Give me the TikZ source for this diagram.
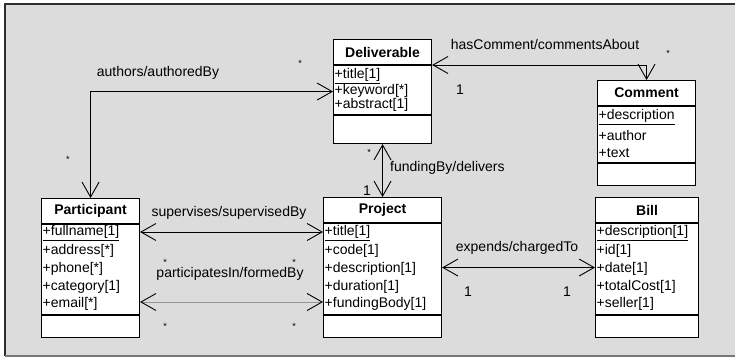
\documentclass[tikz,border=0pt]{standalone}
\usepackage{fontspec}
\setmainfont{Liberation Sans}
\usetikzlibrary{arrows.meta}

\definecolor{bggray}{RGB}{220,220,220}
\definecolor{framedark}{RGB}{45,45,45}
\definecolor{framelight}{RGB}{120,120,120}
\definecolor{linegray}{RGB}{150,150,150}

\begin{document}
\begin{tikzpicture}[x=1pt,y=-1pt,font=\fontsize{14}{17}\selectfont]
\tikzstyle{cls} = [draw, line width=1.1pt, fill=white, rectangle, inner sep=0, anchor=north west]
\tikzstyle{attr} = [anchor=west, inner sep=0]
\tikzstyle{lbl} = [inner sep=0]
\tikzstyle{mult} = [inner sep=0, font=\fontsize{9}{11}\selectfont]
\tikzstyle{assoc} = [line width=0.9pt, {Straight Barb[length=15pt,width=17pt]}-{Straight Barb[length=15pt,width=17pt]}]

\useasboundingbox (0,0) rectangle (735,358);

% Sfondo
\fill[bggray] (5,4) rectangle (735,356);
\draw[line width=1.6pt, framedark] (735,4) -- (5,4) -- (5,356);
\draw[line width=1.6pt, framelight] (5,356) -- (735,356);

% Classi: nome / x / y / larghezza / altezza / divisore / titolo
\foreach \name/\x/\y/\w/\h/\a/\title in {
    deliv/333/39/98/104/76/Deliverable,
    comm/597/80/98/105/83/Comment,
    part/41/198/98/139/117/Participant,
    proj/323/197/118/140/118/Project,
    bill/595/197/103/140/118/Bill} {

  \node[cls, minimum width=\w, minimum height=\h] (\name) at (\x,\y) {};
  \draw[line width=1.1pt] (\name.north west) ++(0,26) -- ++(\w,0);
  \draw[line width=1.1pt] (\name.north west) ++(0,\a) -- ++(\w,0);
  \node[font=\bfseries\fontsize{14}{17}\selectfont] (\name-t) at ([yshift=-13pt]\name.north) {\title};
}

% Attributi
\foreach \i/\txt in {0/\underline{+title[1]}, 1/+keyword[*], 2/+abstract[1]} {
  \pgfmathsetmacro{\yy}{76+14.5*\i}
  \node[attr] (deliv-a\i) at (334.5,\yy) {\txt};
}
\foreach \i/\txt in {0/\underline{+description}, 1/+author, 2/+text} {
  \pgfmathsetmacro{\yy}{117+18*\i}
  \node[attr] (comm-a\i) at (598.5,\yy) {\txt};
}
\foreach \i/\txt in {0/\underline{+fullname[1]}, 1/+address[*], 2/+phone[*], 3/+category[1], 4/+email[*]} {
  \pgfmathsetmacro{\yy}{233+17.8*\i}
  \node[attr] (part-a\i) at (42.5,\yy) {\txt};
}
\foreach \i/\txt in {0/\underline{+title[1]}, 1/+code[1], 2/+description[1], 3/+duration[1], 4/+fundingBody[1]} {
  \pgfmathsetmacro{\yy}{233+17.8*\i}
  \node[attr] (proj-a\i) at (324.5,\yy) {\txt};
}
\foreach \i/\txt in {0/\underline{+description[1]}, 1/+id[1], 2/+date[1], 3/+totalCost[1], 4/+seller[1]} {
  \pgfmathsetmacro{\yy}{233+17.8*\i}
  \node[attr] (bill-a\i) at (596.5,\yy) {\txt};
}

% --- Associazioni ------------------------------
\draw[assoc] (part.north) |- (deliv.west);
\draw[assoc] (comm.north) |- ([yshift=-26pt]deliv.north east);
\draw[assoc] (deliv.south) -- (proj.north);
\draw[assoc] ([yshift=-34pt]part.north east) coordinate (sv) -- (sv -| proj.west);
\draw[assoc, linegray, {Straight Barb[length=15pt,width=17pt,color=black]}-{Straight Barb[length=15pt,width=17pt,color=black]}]
  ([yshift=-104pt]part.north east) coordinate (pf) -- (pf -| proj.west);
\draw[assoc] (proj.east) -- (bill.west);

% Nomi dei ruoli
\node[lbl] (l-auth) at (158,73) {authors/authoredBy};
\node[lbl] (l-comm) at (545,44) {hasComment/commentsAbout};
\node[lbl, anchor=west] (l-fund) at (390,168) {fundingBy/delivers};
\node[lbl] (l-sup) at (229,213) {supervises/supervisedBy};
\node[lbl] (l-part) at (230,274) {participatesIn/formedBy};
\node[lbl] (l-exp) at (517,248) {expends/chargedTo};

% Molteplicita'
\foreach \x/\y [count=\k] in {300/63, 68/159, 668/53, 369/152, 165/262, 294/262, 165/326, 294/326} {
  \node[mult] (star\k) at (\x,\y) {*};
}
\foreach \x/\y [count=\k] in {460/90, 367/191, 468/292, 567/292} {
  \node[lbl] (one\k) at (\x,\y) {1};
}

\end{tikzpicture}
\end{document}
